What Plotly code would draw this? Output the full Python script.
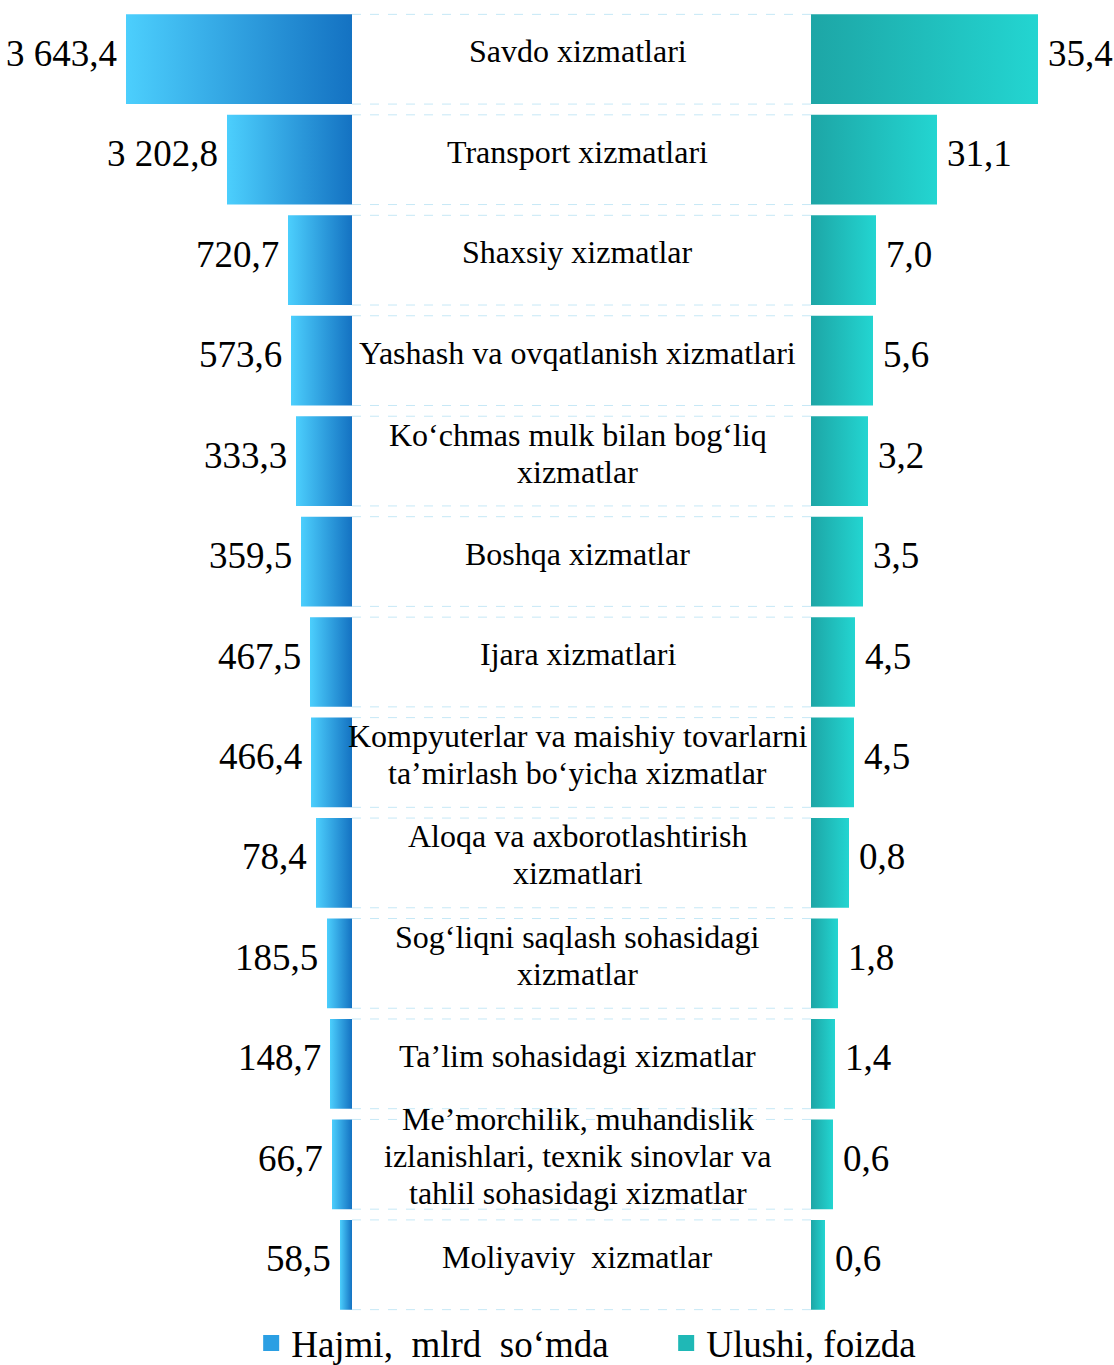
import plotly.graph_objects as go

# ---------------- data ----------------
categories = [
    "Savdo xizmatlari",
    "Transport xizmatlari",
    "Shaxsiy xizmatlar",
    "Yashash va ovqatlanish xizmatlari",
    "Ko‘chmas mulk bilan bog‘liq<br>xizmatlar",
    "Boshqa xizmatlar",
    "Ijara xizmatlari",
    "Kompyuterlar va maishiy tovarlarni<br>ta’mirlash bo‘yicha xizmatlar",
    "Aloqa va axborotlashtirish<br>xizmatlari",
    "Sog‘liqni saqlash sohasidagi<br>xizmatlar",
    "Ta’lim sohasidagi xizmatlar",
    "Me’morchilik, muhandislik<br>izlanishlari, texnik sinovlar va<br>tahlil sohasidagi xizmatlar",
    "Moliyaviy  xizmatlar",
]
volume = [3643.4, 3202.8, 720.7, 573.6, 333.3, 359.5, 467.5, 466.4, 78.4, 185.5, 148.7, 66.7, 58.5]
share = [35.4, 31.1, 7.0, 5.6, 3.2, 3.5, 4.5, 4.5, 0.8, 1.8, 1.4, 0.6, 0.6]

# funnel-style bar lengths as drawn in the picture (not proportional to values)
left_len = [226, 125, 64, 61, 56, 51, 42, 41, 36, 25, 22, 20, 12]
right_len = [227, 126, 65, 62, 57, 52, 44, 43, 38, 27, 24, 22, 14]

legend_names = ["Hajmi,  mlrd  so‘mda", "Ulushi, foizda"]

# ---------------- style ----------------
W, H = 1114, 1365
BOX_L, BOX_R = 352, 811          # middle label box edges (axis units)
HALF = 0.4465                    # half bar thickness (row units)
FONT = "Liberation Serif, Times New Roman, serif"
BLUE_SCALE = [[0, "#4ccffd"], [1, "#1472c2"]]
TEAL_SCALE = [[0, "#1da6a6"], [1, "#23d5d1"]]
DASH_COLOR = "#c6e8f6"
LINE_STEP = 37                   # px between wrapped label lines


def fmt(v, thousands=True):
    s = f"{v:,.1f}" if thousands else f"{v:.1f}"
    return s.replace(",", " ").replace(".", ",")


fig = go.Figure()

n = len(categories)
for i in range(n):
    y0, y1 = i - HALF, i + HALF
    # left bar (volume)
    xl0, xl1 = BOX_L - left_len[i], BOX_L
    fig.add_trace(go.Scatter(
        x=[xl0, xl1, xl1, xl0, xl0], y=[y0, y0, y1, y1, y0],
        mode="lines", fill="toself", line=dict(width=0),
        fillgradient=dict(type="horizontal", colorscale=BLUE_SCALE),
        showlegend=False, hoverinfo="skip"))
    # right bar (share)
    xr0, xr1 = BOX_R, BOX_R + right_len[i]
    fig.add_trace(go.Scatter(
        x=[xr0, xr1, xr1, xr0, xr0], y=[y0, y0, y1, y1, y0],
        mode="lines", fill="toself", line=dict(width=0),
        fillgradient=dict(type="horizontal", colorscale=TEAL_SCALE),
        showlegend=False, hoverinfo="skip"))

    # dashed box edges
    for yy in (y0, y1):
        fig.add_shape(type="line", x0=BOX_L, x1=BOX_R, y0=yy, y1=yy,
                      line=dict(color=DASH_COLOR, width=1, dash="dash"))

    # category label (one annotation per line for tighter line spacing)
    lines = categories[i].split("<br>")
    m = len(lines)
    for k, ln in enumerate(lines):
        fig.add_annotation(x=(BOX_L + BOX_R) / 2 - 4, y=i, text=ln,
                           showarrow=False, xanchor="center", yanchor="middle",
                           yshift=8 - (k - (m - 1) / 2) * LINE_STEP,
                           font=dict(family=FONT, size=32, color="black"))
    # value labels
    fig.add_annotation(x=xl0, y=i, text=fmt(volume[i]), showarrow=False,
                       xanchor="right", yanchor="middle", xshift=-7, yshift=6,
                       font=dict(family=FONT, size=37, color="black"))
    fig.add_annotation(x=xr1, y=i, text=fmt(share[i], False), showarrow=False,
                       xanchor="left", yanchor="middle", xshift=8, yshift=6,
                       font=dict(family=FONT, size=37, color="black"))

# legend entries
fig.add_trace(go.Scatter(x=[None], y=[None], mode="markers", name=legend_names[0],
                         marker=dict(symbol="square", size=16, color="#2b9fe3")))
fig.add_trace(go.Scatter(x=[None], y=[None], mode="markers", name=legend_names[1],
                         marker=dict(symbol="square", size=16, color="#1fb8b6")))

fig.update_layout(
    width=W, height=H,
    margin=dict(l=0, r=0, t=9, b=50, autoexpand=False),
    paper_bgcolor="white", plot_bgcolor="white",
    xaxis=dict(range=[0, W], visible=False, fixedrange=True),
    yaxis=dict(range=[n - 0.5, -0.5], visible=False, fixedrange=True),
    showlegend=True,
    legend=dict(orientation="h", x=0.598, xanchor="center", y=0.002, yanchor="top",
                font=dict(family=FONT, size=37, color="black"),
                itemsizing="trace", entrywidth=370, bgcolor="rgba(0,0,0,0)",
                tracegroupgap=0, itemwidth=30),
)

fig.write_html("out.html", config={"displayModeBar": False},
               post_script="document.body.style.margin='0';")
